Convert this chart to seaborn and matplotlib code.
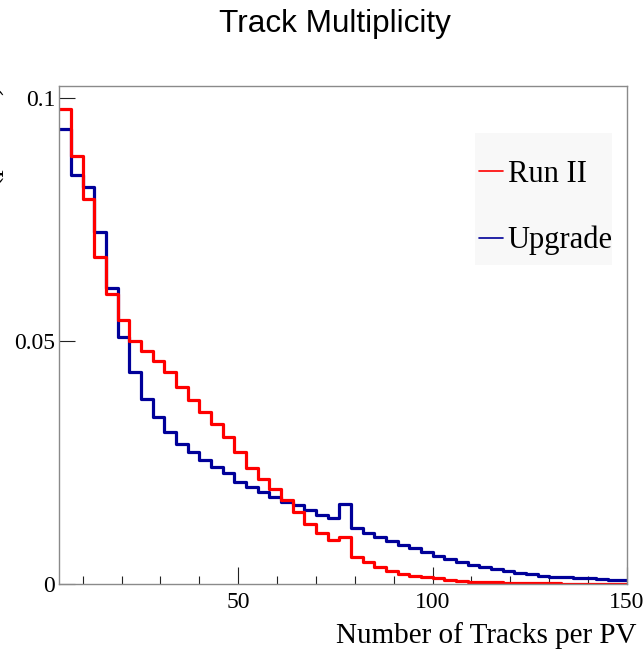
import numpy as np
import pandas as pd
import matplotlib
matplotlib.use("Agg")
import matplotlib.pyplot as plt
from matplotlib.lines import Line2D
from matplotlib.patches import Rectangle
from matplotlib.ticker import MultipleLocator, FixedLocator
import seaborn as sns

# Histogram binning: 3-track wide bins starting at 4 tracks
bin_edges = list(range(4, 152, 3))

# Normalised track multiplicity per primary vertex
run2 = [0.0977, 0.0881, 0.0792, 0.0673, 0.0597, 0.0543, 0.0500, 0.0479, 0.0459, 0.0437,
        0.0405, 0.0379, 0.0355, 0.0329, 0.0303, 0.0271, 0.0240, 0.0216, 0.0195, 0.0173,
        0.0148, 0.0123, 0.0105, 0.0091, 0.0097, 0.0057, 0.0045, 0.0035, 0.0027, 0.0021,
        0.0017, 0.0014, 0.0012, 0.0008, 0.0007, 0.0005, 0.0004, 0.0004, 0.0003, 0.0003,
        0.0002, 0.0002, 0.0002, 0.0001, 0.0001, 0.0001, 0.0001, 0.0001, 0.0001]
upgrade = [0.0935, 0.0841, 0.0817, 0.0725, 0.0610, 0.0509, 0.0436, 0.0381, 0.0344, 0.0314,
           0.0288, 0.0272, 0.0256, 0.0242, 0.0228, 0.0211, 0.0201, 0.0190, 0.0180, 0.0170,
           0.0163, 0.0153, 0.0142, 0.0136, 0.0166, 0.0115, 0.0105, 0.0097, 0.0089, 0.0081,
           0.0074, 0.0067, 0.0058, 0.0051, 0.0045, 0.0040, 0.0035, 0.0031, 0.0027, 0.0024,
           0.0021, 0.0018, 0.0016, 0.0014, 0.0013, 0.0012, 0.0010, 0.0009, 0.0009]

series_names = ["Run II", "Upgrade"]
series_colors = ["#ff0000", "#000099"]

x_ticks = [50, 100, 150]
y_ticks = [0, 0.05, 0.1]
y_tick_labels = ["0", "0.05", "0.1"]

centers = [e + 1.5 for e in bin_edges[:-1]]
df = pd.DataFrame({
    "tracks": centers + centers,
    "fraction": run2 + upgrade,
    "sample": [series_names[0]] * len(centers) + [series_names[1]] * len(centers),
})

sns.set_theme(style="ticks")
plt.rcParams["font.family"] = ["Liberation Serif", "DejaVu Serif"]
plt.rcParams["text.color"] = "black"
plt.rcParams["axes.labelcolor"] = "black"
plt.rcParams["xtick.labelcolor"] = "black"
plt.rcParams["ytick.labelcolor"] = "black"

W, H = 644, 653
fig = plt.figure(figsize=(W / 100, H / 100), dpi=100)
ax = fig.add_axes([0.0921, 0.1052, 0.8815, 0.7636])

sns.histplot(data=df, x="tracks", weights="fraction", hue="sample",
             hue_order=series_names, palette=series_colors, bins=bin_edges,
             element="step", fill=False, linewidth=2.3, legend=False, ax=ax)

ax.set_xlim(4, 150)
ax.set_ylim(0, 0.1025)

for s in ax.spines.values():
    s.set_color("#8a8a8a")
    s.set_linewidth(1.0)

ax.xaxis.set_major_locator(FixedLocator(x_ticks))
ax.xaxis.set_minor_locator(MultipleLocator(10))
ax.set_yticks(y_ticks)
ax.set_yticklabels(y_tick_labels)
ax.tick_params(axis="x", which="major", direction="in", length=12, width=0.8,
               color="#222222", labelsize=17, pad=5.5, top=False)
ax.tick_params(axis="x", which="minor", direction="in", length=6, width=0.8,
               color="#222222", top=False)
ax.tick_params(axis="y", which="major", direction="in", length=11.5, width=0.8,
               color="#222222", labelsize=17, pad=3, right=False)

ax.set_xlabel("Number of Tracks per PV", fontsize=21, loc="right")
ax.xaxis.label.set_va("baseline")
ax.xaxis.set_label_coords(1.0176, -0.1177)

# Axis title sits at the left page margin, mostly beyond the canvas
ax.set_ylabel("Fraction of tracks (per PV)", fontsize=21, loc="top")
ax.yaxis.set_label_coords(-0.0965, 1.0)

fig.text(335 / W, 1 - 31.7 / H, "Track Multiplicity", ha="center",
         va="baseline", fontsize=22.7, color="black",
         family=["Liberation Sans", "DejaVu Sans"])

# Pale legend pad behind the entries
ax.add_patch(Rectangle((475 / W, 1 - 265 / H), (611.7 - 475) / W, (265 - 133.3) / H,
                       transform=fig.transFigure, facecolor="#f8f8f8",
                       edgecolor="none", zorder=0.5))

handles = [Line2D([], [], color=c, linewidth=1.2) for c in series_colors]
leg = ax.legend(handles, series_names, loc="upper left",
                bbox_to_anchor=(465 / W, 1 - 146 / H),
                bbox_transform=fig.transFigure, borderaxespad=0,
                fontsize=22, handlelength=0.78, handletextpad=0.17,
                labelspacing=1.21, borderpad=0.45, frameon=False)

fig.savefig("out.png", dpi=100)
